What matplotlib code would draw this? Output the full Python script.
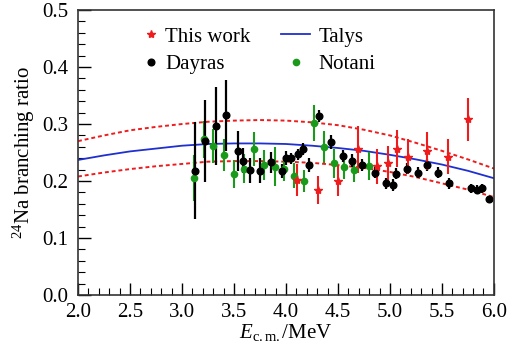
import matplotlib.pyplot as plt
from matplotlib.lines import Line2D
from matplotlib.ticker import MultipleLocator

plt.rcParams["font.family"] = "Liberation Serif"
plt.rcParams["mathtext.fontset"] = "custom"
plt.rcParams["mathtext.rm"] = "Liberation Serif"
plt.rcParams["mathtext.it"] = "Liberation Serif:italic"

# Talys calculation and its band
talys_e = [2.0, 2.25, 2.5, 2.75, 3.0, 3.25, 3.5, 3.75, 4.0, 4.25, 4.5, 4.75,
           5.0, 5.25, 5.5, 5.75, 6.0]
talys_r = [0.237, 0.245, 0.252, 0.257, 0.262, 0.265, 0.266, 0.266, 0.265, 0.262,
           0.258, 0.253, 0.246, 0.238, 0.229, 0.218, 0.205]
talys_up = [0.270, 0.280, 0.289, 0.295, 0.300, 0.304, 0.306, 0.307, 0.306, 0.303,
            0.298, 0.290, 0.280, 0.267, 0.253, 0.238, 0.222]
talys_lo = [0.208, 0.215, 0.221, 0.226, 0.230, 0.234, 0.235, 0.235, 0.234, 0.232,
            0.228, 0.223, 0.216, 0.207, 0.196, 0.185, 0.172]

# Dayras
day_e = [3.125, 3.22, 3.33, 3.42, 3.54, 3.59, 3.65, 3.75, 3.86, 3.96, 4.00, 4.05,
         4.12, 4.16, 4.22, 4.32, 4.43, 4.545, 4.64, 4.73, 4.86, 4.96, 5.03, 5.06,
         5.16, 5.27, 5.36, 5.46, 5.57, 5.78, 5.84, 5.89, 5.95]
day_r = [0.218, 0.271, 0.297, 0.315, 0.253, 0.236, 0.219, 0.218, 0.233, 0.218, 0.240, 0.240,
         0.247, 0.256, 0.228, 0.314, 0.268, 0.244, 0.236, 0.228, 0.215, 0.196, 0.193, 0.213,
         0.222, 0.215, 0.228, 0.215, 0.196, 0.187, 0.185, 0.187, 0.168]
day_err = [0.085, 0.072, 0.068, 0.062, 0.035, 0.022, 0.022, 0.022, 0.018, 0.012, 0.012, 0.010,
           0.010, 0.010, 0.012, 0.010, 0.012, 0.010, 0.012, 0.010, 0.010, 0.010, 0.010, 0.010,
           0.010, 0.010, 0.010, 0.010, 0.010, 0.008, 0.008, 0.008, 0.006]

# Notani
not_e = [3.115, 3.21, 3.30, 3.40, 3.50, 3.60, 3.69, 3.79, 3.89, 3.98, 4.08, 4.17,
         4.27, 4.37, 4.46, 4.56, 4.65, 4.80]
not_r = [0.205, 0.273, 0.262, 0.246, 0.212, 0.222, 0.256, 0.228, 0.225, 0.222, 0.209, 0.200,
         0.302, 0.259, 0.231, 0.224, 0.219, 0.226]
not_err = [0.040, 0.032, 0.030, 0.028, 0.025, 0.025, 0.030, 0.026, 0.034, 0.022, 0.022, 0.020,
           0.031, 0.028, 0.025, 0.020, 0.020, 0.025]

# This work
tw_e = [4.11, 4.31, 4.50, 4.69, 4.88, 4.98, 5.07, 5.17, 5.36, 5.56, 5.75]
tw_r = [0.202, 0.184, 0.200, 0.256, 0.226, 0.232, 0.257, 0.243, 0.253, 0.243, 0.308]
tw_err = [0.028, 0.024, 0.026, 0.041, 0.031, 0.030, 0.032, 0.030, 0.033, 0.030, 0.038]

RED = "#ee1c1c"
BLUE = "#1f2fd0"
GREEN = "#1a9a1a"

fig = plt.figure(figsize=(5.15, 3.56), dpi=100)
ax = fig.add_axes([0.1515, 0.171, 0.8075, 0.801])

ax.plot(talys_e, talys_up, color=RED, lw=1.4, ls=(0, (2, 1.5)))
ax.plot(talys_e, talys_lo, color=RED, lw=1.4, ls=(0, (2, 1.5)))
ax.plot(talys_e, talys_r, color=BLUE, lw=1.3)

ax.errorbar(not_e, not_r, yerr=not_err, fmt="o", color=GREEN, ms=4.5,
            elinewidth=1.5, capsize=0)
ax.errorbar(day_e, day_r, yerr=day_err, fmt="o", color="black", ms=4.8,
            elinewidth=1.6, capsize=0)
ax.errorbar(tw_e, tw_r, yerr=tw_err, fmt="*", color=RED, ms=6,
            elinewidth=1.5, capsize=0)

ax.set_xlim(2.0, 6.0)
ax.set_ylim(0.0, 0.5)
ax.xaxis.set_major_locator(MultipleLocator(0.5))
ax.xaxis.set_minor_locator(MultipleLocator(0.1))
ax.yaxis.set_major_locator(MultipleLocator(0.1))
ax.yaxis.set_minor_locator(MultipleLocator(0.02))
ax.xaxis.set_major_formatter(plt.FormatStrFormatter("%.1f"))
ax.yaxis.set_major_formatter(plt.FormatStrFormatter("%.1f"))
ax.tick_params(which="both", direction="in", top=False, right=False, labelsize=15)
ax.tick_params(which="major", length=9, width=1)
ax.tick_params(which="minor", length=5, width=0.8)
ax.tick_params(axis="x", pad=6)
ax.tick_params(axis="y", pad=7)
for s in ax.spines.values():
    s.set_linewidth(1.2)
    s.set_color("#333333")

ax.set_xlabel(r"$E_{\mathrm{c.m.}}$/MeV", fontsize=15, labelpad=0)
ax.set_ylabel(r"$^{24}$Na branching ratio", fontsize=15, labelpad=4)

# legend in two columns, built as two separate legends
h_tw = Line2D([], [], ls="", marker="*", color=RED, ms=6)
h_day = Line2D([], [], ls="", marker="o", color="black", ms=4.8)
h_tal = Line2D([], [], color=BLUE, lw=1.3)
h_not = Line2D([], [], ls="", marker="o", color=GREEN, ms=4.5)

leg1 = ax.legend([h_tw, h_day], ["This work", "Dayras"], frameon=False, fontsize=15,
                 loc="center left", bbox_to_anchor=(0.156, 0.858), borderpad=0,
                 borderaxespad=0, handlelength=0.8, handletextpad=0.27,
                 labelspacing=0.36)
ax.add_artist(leg1)
ax.legend([h_tal, h_not], ["Talys", "Notani"], frameon=False, fontsize=15,
          loc="center left", bbox_to_anchor=(0.488, 0.858), borderpad=0,
          borderaxespad=0, handlelength=1.4, handletextpad=0.39,
          labelspacing=0.36)

fig.savefig("out.png", dpi=100)
